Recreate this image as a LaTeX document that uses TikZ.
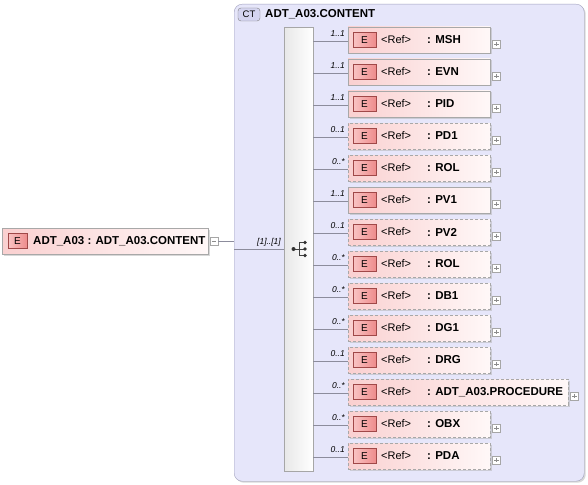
\documentclass[tikz,border=0pt]{standalone}
\usepackage{fontspec}
\setmainfont{Liberation Sans}
\usetikzlibrary{shadows,calc}
\definecolor{ctfill}{HTML}{E6E6FA}
\definecolor{ctborder}{HTML}{A0A0BC}
\definecolor{elL}{HTML}{FAD0D0}
\definecolor{elR}{HTML}{FFF8F8}
\definecolor{elborder}{HTML}{A8A8A8}
\definecolor{badgeL}{HTML}{F9C4C4}
\definecolor{badgeR}{HTML}{EE8C8C}
\definecolor{badgeborder}{HTML}{A04848}
\definecolor{linec}{HTML}{8C8C9C}
\definecolor{ctbadgefill}{HTML}{D4D4F0}
\begin{document}
\begin{tikzpicture}[x=1pt,y=-1pt,
  font=\fontsize{11}{13}\selectfont,
  shadowed/.style={drop shadow={shadow xshift=1.5pt,shadow yshift=-1.5pt,fill=black!30,opacity=0.5}},
  elbox/.style={rectangle,draw=elborder,left color=elL,right color=elR,minimum height=26pt,inner sep=0pt,shadowed},
  solidbox/.style={elbox},
  optbox/.style={elbox,dashed,dash pattern=on 3pt off 2pt},
  badge/.style={rectangle,draw=badgeborder,left color=badgeL,right color=badgeR,minimum width=23pt,minimum height=15pt,inner sep=0pt,font=\fontsize{10}{11}\selectfont},
  pm/.style={rectangle,draw=black!35,fill=white,minimum size=8pt,inner sep=0pt},
  pml/.style={draw=black!45,line width=0.5pt},
  conn/.style={draw=linec,line width=0.6pt},
  mult/.style={font=\fontsize{8.5}{9}\selectfont\itshape,inner sep=0pt},
  lbl/.style={anchor=west,inner sep=0pt},
  blbl/.style={anchor=west,inner sep=0pt,font=\fontsize{11.5}{13}\selectfont\bfseries}
]
\useasboundingbox (0,0) rectangle (588,484);

% container
\node[rectangle,rounded corners=8pt,draw=ctborder,fill=ctfill,minimum width=350pt,minimum height=477pt,anchor=north west,inner sep=0pt,shadowed] (ct) at (234,4) {};
\node[rectangle,rounded corners=3pt,draw=black!50,fill=ctbadgefill,minimum width=22pt,minimum height=13pt,inner sep=0pt,font=\fontsize{9.5}{10}\selectfont] (ctb) at (249,14.5) {CT};
\node[blbl] (cttitle) at (265,14) {ADT\_A03.CONTENT};

% sequence bar
\node[rectangle,draw=black!35,left color=black!9,right color=white,minimum width=29pt,minimum height=444pt,anchor=north west,inner sep=0pt] (seq) at (284,27) {};
% sequence icon
\coordinate (sq) at (293.5,249);
\draw[black!75,line width=0.7pt] (sq) -- ++(5.5,0) (299,242.5) -- (299,255.5) (299,242.5) -- (305,242.5) (299,255.5) -- (305,255.5) (299,249) -- (305,249);
\fill[black!80] (sq) circle (2pt) (305,242.5) circle (1.8pt) (305,249) circle (1.8pt) (305,255.5) circle (1.8pt);

% root element
\node[solidbox,minimum width=206pt,anchor=west] (root) at (2,241) {};
\node[badge,minimum width=19pt] (rootb) at (17.5,241) {E};
\node[blbl] (roott) at (33,241) {ADT\_A03 : ADT\_A03.CONTENT};
\node[pm] (rootm) at (214,241) {};
\draw[pml] ([xshift=2pt]rootm.west) -- ([xshift=-2pt]rootm.east);
\coordinate (j0) at (ct.west |- rootm.east);
\draw[conn] (rootm.east) -- (j0);
\coordinate (j1) at (234,249);
\draw[conn] (j1) -- (seq.west |- j1);
\node[mult,anchor=south east] (rootmult) at (281,246) {[1]..[1]};

% children
\foreach \i/\nm/\mu/\st/\w in {
 0/MSH/1..1/solidbox/142,
 1/EVN/1..1/solidbox/142,
 2/PID/1..1/solidbox/142,
 3/PD1/0..1/optbox/142,
 4/ROL/0..*/optbox/142,
 5/PV1/1..1/solidbox/142,
 6/PV2/0..1/optbox/142,
 7/ROL/0..*/optbox/142,
 8/DB1/0..*/optbox/142,
 9/DG1/0..*/optbox/142,
 10/DRG/0..1/optbox/142,
 11/ADT\_A03.PROCEDURE/0..*/optbox/220,
 12/OBX/0..*/optbox/142,
 13/PDA/0..1/optbox/142}{
  \pgfmathsetmacro{\c}{40+32*\i}
  \node[\st,minimum width=\w pt,anchor=west] (c\i) at (348,\c) {};
  \node[badge] (b\i) at (364.5,\c) {E};
  \node[lbl] (r\i) at (381,\c) {<Ref>};
  \node[blbl] (n\i) at (427,\c) {: \nm};
  \node[pm] (p\i) at ($(c\i.east)+(6,4)$) {};
  \draw[pml] ([xshift=2pt]p\i.west) -- ([xshift=-2pt]p\i.east);
  \draw[pml] ([yshift=-2pt]p\i.north) -- ([yshift=2pt]p\i.south);
  \coordinate (s\i) at ($(seq.east |- c\i.west)+(0,1)$);
  \draw[conn] (s\i) -- (s\i -| c\i.west);
  \node[mult,anchor=south east] (m\i) at ($(c\i.west)+(-3,-3)$) {\mu};
}
\end{tikzpicture}
\end{document}
